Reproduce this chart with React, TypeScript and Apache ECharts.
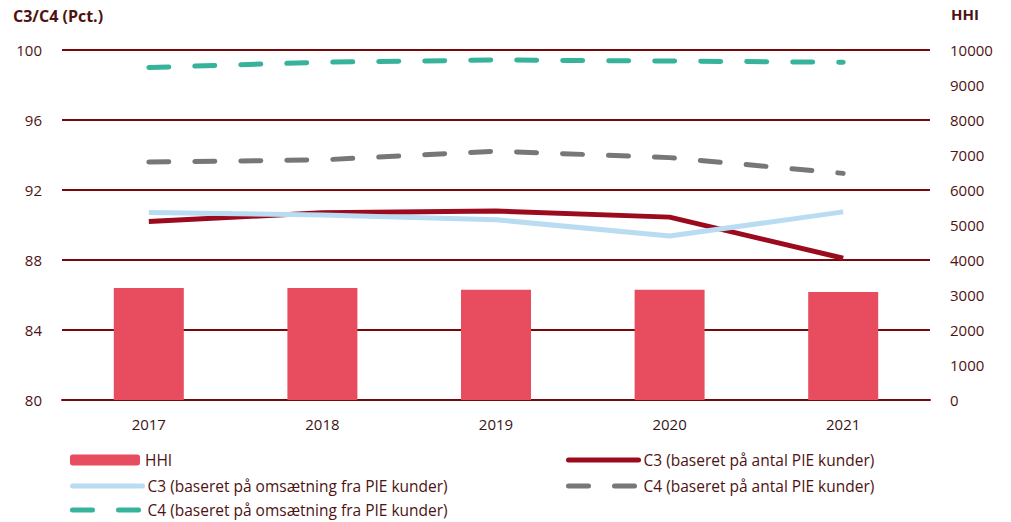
import React, { useEffect, useRef } from "react";
import * as echarts from "echarts";

const categories = ["2017", "2018", "2019", "2020", "2021"];
const hhi = [3200, 3200, 3150, 3150, 3085];
const c3Antal = [90.2, 90.7, 90.8, 90.45, 88.1];
const c3Oms = [90.72, 90.57, 90.3, 89.37, 90.75];
const c4Antal = [93.6, 93.72, 94.22, 93.85, 92.95];
const c4Oms = [99.0, 99.3, 99.43, 99.37, 99.3];
const leftTicks = [80, 100, 4];
const rightTicks = [0, 10000, 1000];

const names = {
  hhi: "HHI",
  c3a: "C3 (baseret på antal PIE kunder)",
  c3o: "C3 (baseret på omsætning fra PIE kunder)",
  c4a: "C4 (baseret på antal PIE kunder)",
  c4o: "C4 (baseret på omsætning fra PIE kunder)",
};

const FONT = "Open Sans";
const TXT = "#4e1212";
const GRID = "#760a0a";
const DASH = [20, 26];

export default function App() {
  const ref = useRef<HTMLDivElement>(null);
  useEffect(() => {
    if (!ref.current) return;
    const chart = echarts.init(ref.current, null, { renderer: "svg" });
    const legendText = { color: TXT, fontFamily: FONT, fontSize: 15.5 };
    const mkLegend = (name: string, left: number, top: number, isLine: boolean, dashed: boolean) => ({
      left,
      top,
      padding: 0,
      itemWidth: 70,
      itemHeight: 11,
      itemGap: 5,
      textStyle: legendText,
      itemStyle: isLine ? { opacity: 0 } : {},
      lineStyle: isLine
        ? { width: 5, cap: "round", type: dashed ? DASH : "solid" }
        : {},
      data: [name],
    });
    chart.setOption({
      animation: false,
      grid: { left: 62, right: 81, top: 50, bottom: 122, containLabel: false },
      graphic: [
        { type: "text", left: 13, top: 8, style: { text: "C3/C4 (Pct.)", fill: TXT, font: `bold 16px "${FONT}"` } },
        { type: "text", left: 951, top: 6, style: { text: "HHI", fill: TXT, font: `bold 15px "${FONT}"` } },
      ],
      legend: [
        mkLegend(names.hhi, 70, 452, false, false),
        mkLegend(names.c3o, 70, 478, true, false),
        mkLegend(names.c4o, 70, 502, true, true),
        mkLegend(names.c3a, 566, 452, true, false),
        mkLegend(names.c4a, 566, 478, true, true),
      ],
      xAxis: {
        type: "category",
        data: categories,
        axisLine: { show: true, lineStyle: { color: GRID, width: 2 } },
        axisTick: { show: false },
        axisLabel: { color: "#3a1414", fontFamily: FONT, fontSize: 15, margin: 16 },
      },
      yAxis: [
        {
          type: "value",
          min: leftTicks[0],
          max: leftTicks[1],
          interval: leftTicks[2],
          axisLine: { show: false },
          axisTick: { show: false },
          axisLabel: { color: TXT, fontFamily: FONT, fontSize: 15, margin: 20 },
          splitLine: { show: true, lineStyle: { color: GRID, width: 2 } },
        },
        {
          type: "value",
          min: rightTicks[0],
          max: rightTicks[1],
          interval: rightTicks[2],
          axisLine: { show: false },
          axisTick: { show: false },
          axisLabel: {
            color: TXT,
            fontFamily: FONT,
            fontSize: 15,
            margin: 20,
            align: "left",
            formatter: (v: number) => String(v),
          },
          splitLine: { show: false },
        },
      ],
      series: [
        {
          name: names.hhi,
          type: "bar",
          yAxisIndex: 1,
          data: hhi,
          barWidth: 70,
          itemStyle: { color: "#e84d5f" },
        },
        {
          name: names.c3a,
          type: "line",
          data: c3Antal,
          symbol: "none",
          lineStyle: { color: "#9c0a1e", width: 5 },
          itemStyle: { color: "#9c0a1e" },
        },
        {
          name: names.c3o,
          type: "line",
          data: c3Oms,
          symbol: "none",
          lineStyle: { color: "#b9dcf3", width: 5 },
          itemStyle: { color: "#b9dcf3" },
        },
        {
          name: names.c4a,
          type: "line",
          data: c4Antal,
          symbol: "none",
          lineStyle: { color: "#777777", width: 5, type: DASH, cap: "round" },
          itemStyle: { color: "#777777" },
        },
        {
          name: names.c4o,
          type: "line",
          data: c4Oms,
          symbol: "none",
          lineStyle: { color: "#36b39a", width: 5, type: DASH, cap: "round" },
          itemStyle: { color: "#36b39a" },
        },
      ],
    });
    return () => chart.dispose();
  }, []);
  return (
    <div
      ref={ref}
      style={{ position: "absolute", left: 0, top: 0, width: 1011, height: 522, background: "#fff" }}
    />
  );
}
